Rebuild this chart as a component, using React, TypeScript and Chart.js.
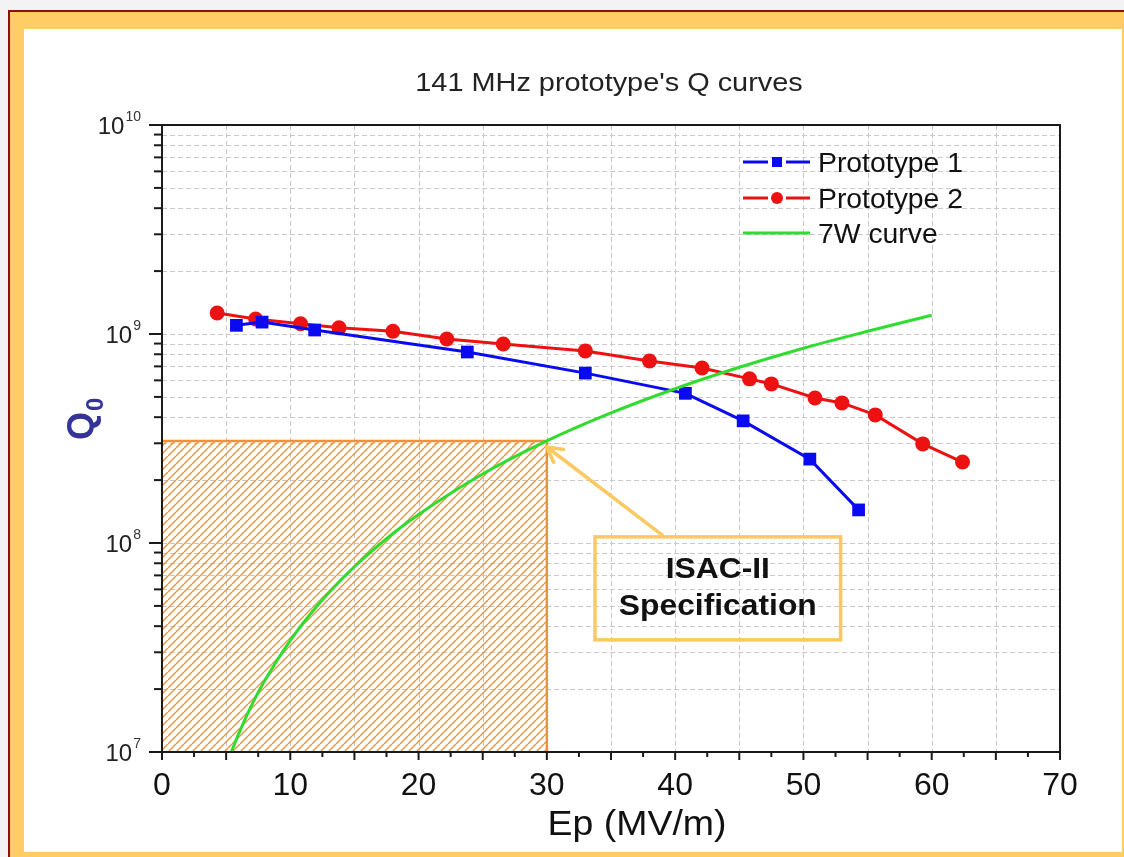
import React, { useEffect, useRef } from 'react';
import { Chart, registerables } from 'chart.js';
Chart.register(...registerables);

const FONT = '"Liberation Sans", Arial, Helvetica, sans-serif';

// Prototype 1 (blue squares)
const p1Ep = [5.8, 7.8, 11.9, 23.8, 33.0, 40.8, 45.3, 50.5, 54.3];
const p1Q = [1.1e9, 1.14e9, 1.045e9, 8.2e8, 6.5e8, 5.2e8, 3.84e8, 2.52e8, 1.44e8];
// Prototype 2 (red circles)
const p2Ep = [4.3, 7.3, 10.8, 13.8, 18.0, 22.2, 26.6, 33.0, 38.0, 42.1, 45.8, 47.5, 50.9, 53.0, 55.6, 59.3, 62.4];
const p2Q = [1.26e9, 1.18e9, 1.12e9, 1.07e9, 1.03e9, 9.46e8, 8.96e8, 8.3e8, 7.43e8, 6.88e8, 6.1e8, 5.77e8, 4.94e8, 4.68e8, 4.1e8, 2.98e8, 2.44e8];
// 7W curve (green)
const w7Ep = [5.4, 6, 7, 8, 10, 12, 15, 18, 20, 25, 30, 35, 40, 45, 50, 55, 60];
const w7Q = [1.0e7, 1.23e7, 1.68e7, 2.19e7, 3.42e7, 4.93e7, 7.7e7, 1.11e8, 1.37e8, 2.14e8, 3.08e8, 4.19e8, 5.47e8, 6.93e8, 8.55e8, 1.03e9, 1.23e9];
// ISAC-II specification region outline
const specEp = [0, 30, 30];
const specQ = [3.08e8, 3.08e8, 1e7];
// annotation (data coordinates)
const boxEp = [33.75, 52.9];
const boxQ = [1.07e8, 3.44e7];
const arrowEp = [39, 30];
const arrowQ = [1.09e8, 2.88e8];
const boxLines = ['ISAC-II', 'Specification'];

// axes
const xMin = 0, xMax = 70;
const yMin = 1e7, yMax = 1e10;
const xTickLabels = [0, 10, 20, 30, 40, 50, 60, 70];
const xMajorTicks = [0, 5, 10, 15, 20, 25, 30, 35, 40, 45, 50, 55, 60, 65, 70];
const xMinorTicks = [2.5, 7.5, 12.5, 17.5, 22.5, 27.5, 32.5, 37.5, 42.5, 47.5, 52.5, 57.5, 62.5, 67.5];
const xGrid = [5, 10, 15, 20, 25, 30, 35, 40, 45, 50, 55, 60, 65];
const yDecades = [1e7, 1e8, 1e9, 1e10];
const yDecadeExp = ['7', '8', '9', '10'];
const yMantissas = [2, 3, 4, 5, 6, 7, 8, 9];

const legendNames = ['Prototype 1', 'Prototype 2', '7W curve'];
const BLUE = '#0a0af0';
const RED = '#ee1111';
const GREEN = '#30dc30';
const ORANGE = '#ef9330';
const GOLD = '#fbc962';

function txt(ctx: CanvasRenderingContext2D, s: string, x: number, y: number, font: string, color: string, align: CanvasTextAlign = 'center', sx = 1) {
  ctx.save();
  ctx.font = font;
  ctx.fillStyle = color;
  ctx.textAlign = align;
  ctx.textBaseline = 'alphabetic';
  ctx.translate(x, y);
  ctx.scale(sx, 1);
  ctx.fillText(s, 0, 0);
  ctx.restore();
}

const decor = {
  id: 'decor',
  beforeDatasetsDraw(chart: any) {
    const { ctx, chartArea: a, scales } = chart;
    const xs = scales.x, ys = scales.y;
    ctx.save();
    ctx.strokeStyle = '#c9c9c9';
    ctx.lineWidth = 1;
    ctx.setLineDash([5, 3]);
    for (const v of xGrid) {
      const px = Math.round(xs.getPixelForValue(v)) + 0.5;
      ctx.beginPath(); ctx.moveTo(px, a.top); ctx.lineTo(px, a.bottom); ctx.stroke();
    }
    for (let d = 0; d < yDecades.length - 1; d++) {
      const vals = d === 0 ? yMantissas : [1, ...yMantissas];
      for (const m of vals) {
        const py = Math.round(ys.getPixelForValue(m * yDecades[d])) + 0.5;
        ctx.beginPath(); ctx.moveTo(a.left, py); ctx.lineTo(a.right, py); ctx.stroke();
      }
    }
    ctx.restore();
  },
  afterDatasetsDraw(chart: any) {
    const { ctx, chartArea: a, scales } = chart;
    const xs = scales.x, ys = scales.y;
    ctx.save();
    // frame
    ctx.strokeStyle = '#1a1a1a';
    ctx.lineWidth = 2;
    ctx.strokeRect(a.left, a.top, a.right - a.left, a.bottom - a.top);
    // x ticks
    for (const v of xMajorTicks) {
      const px = xs.getPixelForValue(v);
      ctx.beginPath(); ctx.moveTo(px, a.bottom); ctx.lineTo(px, a.bottom + 8); ctx.stroke();
    }
    for (const v of xMinorTicks) {
      const px = xs.getPixelForValue(v);
      ctx.beginPath(); ctx.moveTo(px, a.bottom); ctx.lineTo(px, a.bottom + 5); ctx.stroke();
    }
    // y ticks
    for (let d = 0; d < yDecades.length; d++) {
      const py = ys.getPixelForValue(yDecades[d]);
      ctx.beginPath(); ctx.moveTo(a.left - 13, py); ctx.lineTo(a.left, py); ctx.stroke();
      if (d < yDecades.length - 1) {
        for (const m of yMantissas) {
          const pm = ys.getPixelForValue(m * yDecades[d]);
          ctx.beginPath(); ctx.moveTo(a.left - 8, pm); ctx.lineTo(a.left, pm); ctx.stroke();
        }
      }
    }
    // x labels
    for (const v of xTickLabels) {
      txt(ctx, String(v), xs.getPixelForValue(v), a.bottom + 43, `32px ${FONT}`, '#111', 'center');
    }
    // y labels
    for (let d = 0; d < yDecades.length; d++) {
      const py = ys.getPixelForValue(yDecades[d]);
      const right = a.left - 21;
      ctx.font = `14px ${FONT}`;
      const ew = ctx.measureText(yDecadeExp[d]).width;
      txt(ctx, yDecadeExp[d], right, py - 4, `14px ${FONT}`, '#333', 'right');
      txt(ctx, '10', right - ew - 1, py + 8.5, `24px ${FONT}`, '#222', 'right');
    }
    // axis titles
    txt(ctx, 'Ep (MV/m)', 637, a.bottom + 83, `35px ${FONT}`, '#111', 'center', 1.07);
    ctx.save();
    ctx.translate(93, 440);
    ctx.rotate(-Math.PI / 2);
    txt(ctx, 'Q', 0, 0, `bold 36px ${FONT}`, '#333399', 'left');
    txt(ctx, '0', 29, 10, `bold 24px ${FONT}`, '#333399', 'left');
    ctx.restore();
    // title
    txt(ctx, "141 MHz prototype's Q curves", 609, 91, `25px ${FONT}`, '#222', 'center', 1.155);

    // annotation arrow
    const tx = xs.getPixelForValue(arrowEp[1]), ty = ys.getPixelForValue(arrowQ[1]);
    const sx0 = xs.getPixelForValue(arrowEp[0]), sy0 = ys.getPixelForValue(arrowQ[0]);
    ctx.strokeStyle = GOLD;
    ctx.lineWidth = 3.5;
    ctx.lineCap = 'round';
    ctx.beginPath(); ctx.moveTo(sx0, sy0); ctx.lineTo(tx, ty); ctx.stroke();
    const ang = Math.atan2(sy0 - ty, sx0 - tx);
    for (const s of [-1, 1]) {
      const aa = ang + s * 0.5;
      ctx.beginPath(); ctx.moveTo(tx, ty); ctx.lineTo(tx + 17 * Math.cos(aa), ty + 17 * Math.sin(aa)); ctx.stroke();
    }
    // annotation box
    const bl = xs.getPixelForValue(boxEp[0]), br = xs.getPixelForValue(boxEp[1]);
    const bt = ys.getPixelForValue(boxQ[0]), bb = ys.getPixelForValue(boxQ[1]);
    ctx.lineCap = 'butt';
    ctx.lineWidth = 3.5;
    ctx.strokeRect(bl, bt, br - bl, bb - bt);
    const bc = (bl + br) / 2;
    txt(ctx, boxLines[0], bc, bt + 41, `bold 30px ${FONT}`, '#111', 'center', 1.06);
    txt(ctx, boxLines[1], bc, bt + 78, `bold 30px ${FONT}`, '#111', 'center', 1.06);

    // legend
    const lx = a.right - 317;
    const rows = [162, 198, 233];
    const cols = [BLUE, RED, GREEN];
    for (let i = 0; i < 3; i++) {
      const y = rows[i];
      ctx.strokeStyle = cols[i];
      ctx.fillStyle = cols[i];
      ctx.lineWidth = 3;
      if (i < 2) {
        ctx.beginPath(); ctx.moveTo(lx, y); ctx.lineTo(lx + 25, y); ctx.stroke();
        ctx.beginPath(); ctx.moveTo(lx + 43, y); ctx.lineTo(lx + 67, y); ctx.stroke();
        if (i === 0) ctx.fillRect(lx + 29, y - 5, 10, 10);
        else { ctx.beginPath(); ctx.arc(lx + 34, y, 6, 0, Math.PI * 2); ctx.fill(); }
      } else {
        ctx.beginPath(); ctx.moveTo(lx, y); ctx.lineTo(lx + 67, y); ctx.stroke();
      }
      txt(ctx, legendNames[i], lx + 75, y + 10, `27px ${FONT}`, '#111', 'left', 1.05);
    }
    ctx.restore();
  },
};

export default function App() {
  const ref = useRef<HTMLCanvasElement | null>(null);
  useEffect(() => {
    const canvas = ref.current!;
    const c2d = canvas.getContext('2d')!;
    const pc = document.createElement('canvas');
    pc.width = 8; pc.height = 8;
    const g = pc.getContext('2d')!;
    g.strokeStyle = 'rgba(234,142,52,0.95)';
    g.lineWidth = 1.4;
    for (const k of [-1, 0, 1]) {
      g.beginPath(); g.moveTo(k * 8, 8); g.lineTo(k * 8 + 8, 0); g.stroke();
    }
    const pattern = c2d.createPattern(pc, 'repeat')!;
    const toPts = (xs: number[], ys: number[]) => xs.map((x, i) => ({ x, y: ys[i] }));
    const chart = new Chart(canvas, {
      type: 'line',
      data: {
        datasets: [
          {
            label: 'spec', data: toPts(specEp, specQ), borderColor: ORANGE, borderWidth: 2.5,
            backgroundColor: pattern as any, fill: 'start', pointRadius: 0, order: 10, tension: 0,
          },
          {
            label: legendNames[2], data: toPts(w7Ep, w7Q), borderColor: GREEN, borderWidth: 3,
            pointRadius: 0, cubicInterpolationMode: 'monotone', fill: false, order: 1,
          },
          {
            label: legendNames[0], data: toPts(p1Ep, p1Q), borderColor: BLUE, backgroundColor: BLUE,
            borderWidth: 3, pointStyle: 'rect', pointRadius: 9, pointBorderWidth: 0, fill: false, order: 2, tension: 0,
          },
          {
            label: legendNames[1], data: toPts(p2Ep, p2Q), borderColor: RED, backgroundColor: RED,
            borderWidth: 3, pointStyle: 'circle', pointRadius: 7.5, pointBorderWidth: 0, fill: false, order: 3, tension: 0,
          },
        ],
      },
      options: {
        responsive: false,
        animation: false,
        devicePixelRatio: 1,
        layout: { padding: { left: 162, top: 125, right: 64, bottom: 105 } },
        plugins: { legend: { display: false }, tooltip: { enabled: false }, title: { display: false } },
        scales: {
          x: { type: 'linear', min: xMin, max: xMax, display: false },
          y: { type: 'logarithmic', min: yMin, max: yMax, display: false },
        },
      },
      plugins: [decor],
    } as any);
    return () => chart.destroy();
  }, []);
  return (
    <div style={{ position: 'absolute', left: 0, top: 0, width: 1124, height: 857, background: '#f3f3f3', overflow: 'hidden' }}>
      <div style={{ position: 'absolute', left: 8, top: 10, width: 1116, height: 847, background: '#ffcc66', borderTop: '2px solid #8b1010', borderLeft: '2px solid #8b1010', boxSizing: 'border-box' }} />
      <div style={{ position: 'absolute', left: 24, top: 29, width: 1098, height: 823, background: '#ffffff' }} />
      <canvas ref={ref} width={1124} height={857} style={{ position: 'absolute', left: 0, top: 0, width: 1124, height: 857 }} />
    </div>
  );
}
